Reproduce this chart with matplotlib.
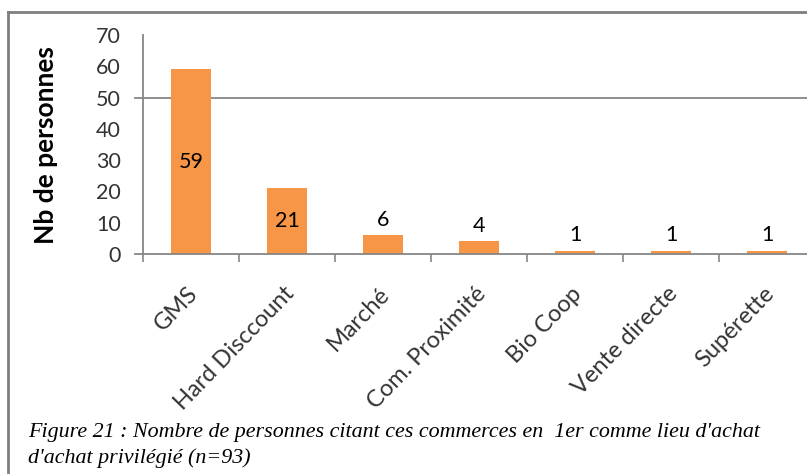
import matplotlib
matplotlib.use("Agg")
import matplotlib.pyplot as plt
import matplotlib.transforms as mtransforms
from matplotlib.lines import Line2D

categories = ["GMS", "Hard Disccount", "Marché", "Com. Proximité",
              "Bio Coop", "Vente directe", "Supérette"]
counts = [59, 21, 6, 4, 1, 1, 1]
y_ticks = [0, 10, 20, 30, 40, 50, 60, 70]
y_label = "Nb de personnes"
caption = ("Figure 21 : Nombre de personnes citant ces commerces en  1er comme lieu d'achat\n"
           "d'achat privilégié (n=93)")

BAR = "#F79646"
AXIS = "#868686"
TXT = "#333333"

plt.rcParams["font.family"] = ["Lato", "DejaVu Sans"]

fig = plt.figure(figsize=(8.07, 4.74), dpi=100)
W, H = 807, 474
x0, x1, y_top, y_zero = 143, 815, 35, 254
ax = fig.add_axes([x0 / W, 1 - y_zero / H, (x1 - x0) / W, (y_zero - y_top) / H])

xs = range(len(categories))
bars = ax.bar(xs, counts, width=0.41, color=BAR, zorder=2)

ax.set_xlim(-0.5, len(categories) - 0.5)
ax.set_ylim(0, 70)

# single gridline at 50, with short outside ticks at 0 and 50
ax.axhline(50, color=AXIS, lw=1.3, zorder=1)
tick_len = 8 / (x1 - x0)
for yv in (0, 50):
    ax.plot([-tick_len, 0], [yv, yv], color=AXIS, lw=1.3, clip_on=False,
            transform=ax.get_yaxis_transform(), zorder=1)

# y axis
ax.set_yticks(y_ticks)
ax.tick_params(axis="y", length=0, pad=16, labelsize=15.5, labelcolor=TXT)

# x axis: labels at centres, tick marks between categories
ax.set_xticks(list(xs))
ax.set_xticklabels(categories, rotation=46, ha="right", va="top",
                   rotation_mode="anchor", fontsize=17, color=TXT)
ax.tick_params(axis="x", which="major", length=0, pad=21)
ax.set_xticks([i - 0.5 for i in range(len(categories) + 1)], minor=True)
ax.tick_params(axis="x", which="minor", length=6, width=1.2, color=AXIS, direction="out")
for lab in ax.get_xticklabels():
    lab.set_transform(lab.get_transform() + mtransforms.ScaledTranslation(-4 / 100, 0, fig.dpi_scale_trans))

for s in ("top", "right"):
    ax.spines[s].set_visible(False)
for s in ("left", "bottom"):
    ax.spines[s].set_color(AXIS)
    ax.spines[s].set_linewidth(1.3)

# value labels
for b, v in zip(bars, counts):
    cx = b.get_x() + b.get_width() / 2
    if v > 10:
        ax.text(cx, v / 2, str(v), ha="center", va="center", fontsize=15.5, color="black", zorder=3)
    else:
        ax.annotate(str(v), (cx, v), xytext=(0, 4), textcoords="offset points",
                    ha="center", va="bottom", fontsize=15.5, color="black", zorder=3)

fig.text(46 / W, 1 - 145 / H, y_label, rotation=90, ha="center", va="center",
         fontsize=19, fontweight="bold", color="black")

# outer frame (left and top edges)
fig.add_artist(Line2D([8 / W, 8 / W], [0, 1 - 12 / H], color="#7f7f7f", lw=2,
                      transform=fig.transFigure))
fig.add_artist(Line2D([8 / W, 1], [1 - 12 / H, 1 - 12 / H], color="#7f7f7f", lw=2,
                      transform=fig.transFigure))

fig.text(28 / W, 1 - 423 / H, caption, ha="left", va="top", fontsize=15.8,
         family=["Liberation Serif"], style="italic", color="black", linespacing=1.4)

fig.savefig("out.png", dpi=100)
